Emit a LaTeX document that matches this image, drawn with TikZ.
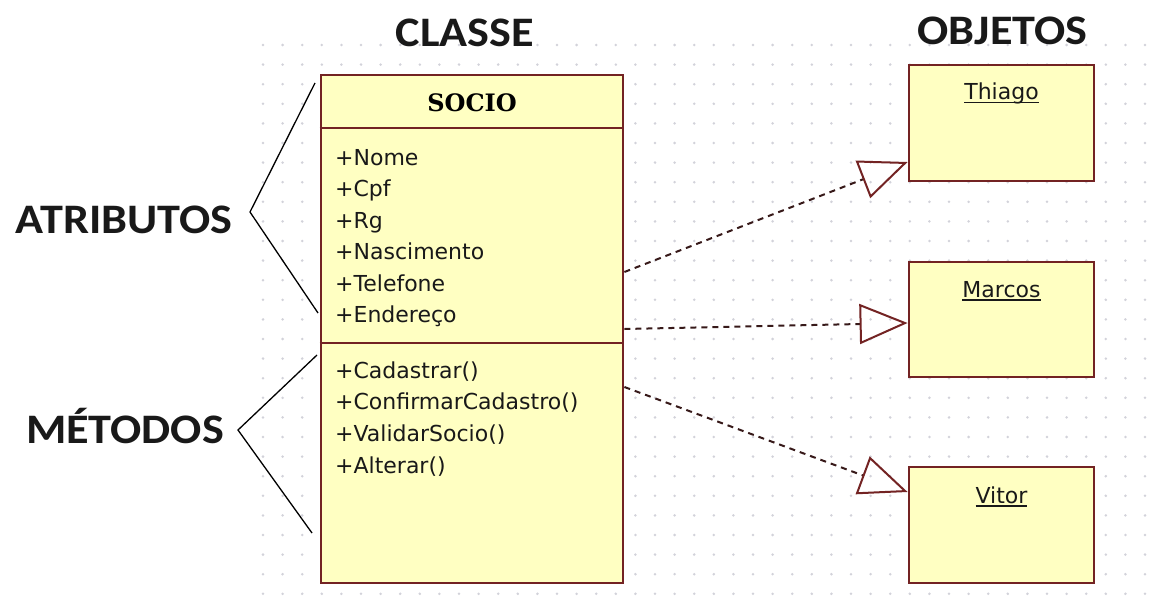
\documentclass[tikz,border=0pt]{standalone}
\usepackage{fontspec}
\usepackage{graphicx}
\usetikzlibrary{arrows.meta}

\newfontfamily\titlefont{Carlito}
\newfontfamily\umlfont{DejaVu Sans}
\newfontfamily\umlheadfont{DejaVu Serif}

\definecolor{umlfill}{RGB}{255,255,194}
\definecolor{umlline}{RGB}{115,35,35}
\definecolor{dashink}{RGB}{55,25,25}
\definecolor{griddot}{RGB}{210,210,218}

% object name with a flat underline close to the baseline
\newcommand\objname[1]{\setbox0\hbox{#1}\rlap{\rule[-3.5pt]{\wd0}{1.6pt}}\box0}

\begin{document}
\begin{tikzpicture}[x=1pt,y=-1pt,
  umlbox/.style={draw=umlline, fill=umlfill, line width=2.8pt, rectangle, inner sep=0pt},
  divider/.style={umlline, line width=2.6pt},
  member/.style={anchor=base west, inner sep=0pt, font=\umlfont\fontsize{22}{26}\selectfont, text=black!90},
  objlabel/.style={anchor=base, inner sep=0pt, font=\umlfont\fontsize{22}{26}\selectfont, text=black!90},
  bigtitle/.style={anchor=base, inner sep=0pt, font=\titlefont\bfseries\fontsize{42}{48}\selectfont, text=black!90},
  realizes/.style={dashink, line width=2pt, dash pattern=on 6pt off 5pt,
    -{Triangle[open, length=48pt, width=40pt, line width=2pt, color=umlline]}},
  bracket/.style={black, line width=1.3pt},
]

% canvas
\fill[white] (0,0) rectangle (1150,615);

% dotted drawing grid
\foreach \i in {0,...,45}
  \foreach \j in {0,...,28}
    \fill[griddot] ({263+19.6*\i},{45+19.6*\j}) circle (1.4pt);

% class SOCIO
\node[umlbox, minimum width=302pt, minimum height=508pt] (socio) at (472,329) {};
\draw[divider] (socio.west |- 0,128) -- (socio.east |- 0,128);
\draw[divider] (socio.west |- 0,343) -- (socio.east |- 0,343);
\node[anchor=base, inner sep=0pt, font=\umlheadfont\bfseries\fontsize{24}{28}\selectfont] (socioname) at (472,112) {SOCIO};

\foreach \t [count=\k] in {{+Nome},{+Cpf},{+Rg},{+Nascimento},{+Telefone},{+Endereço}}
  \node[member] (attr\k) at (335,{165+31.5*(\k-1)}) {\t};

\foreach \t [count=\k] in {{+Cadastrar()},{+ConfirmarCadastro()},{+ValidarSocio()},{+Alterar()}}
  \node[member] (meth\k) at (335,{378+31.7*(\k-1)}) {\t};

% objects
\node[umlbox, minimum width=185pt, minimum height=116pt] (thiago) at (1001.5,123) {};
\node[umlbox, minimum width=185pt, minimum height=115pt] (marcos) at (1001.5,319.5) {};
\node[umlbox, minimum width=185pt, minimum height=116pt] (vitor) at (1001.5,525) {};
\node[objlabel] (thiagoname) at (1001.5,100) {\objname{Thiago}};
\node[objlabel] (marcosname) at (1001.5,297) {\objname{Marcos}};
\node[objlabel] (vitorname) at (1001.5,503) {\objname{Vitor}};

% instantiation links
\draw[realizes] (socio.east |- 0,272) -- (thiago.west |- 0,162);
\draw[realizes] (socio.east |- 0,329) -- (marcos.west |- 0,323);
\draw[realizes] (socio.east |- 0,387) -- (vitor.west |- 0,492);

% titles
\node[bigtitle] (classe) at (465,47) {\scalebox{1.1}[1]{CLASSE}};
\node[bigtitle] (objetos) at (1002.5,45) {\scalebox{1.1}[1]{OBJETOS}};
\node[bigtitle] (atributos) at (124,233) {\scalebox{1.1}[1]{ATRIBUTOS}};
\node[bigtitle] (metodos) at (125,443) {\scalebox{1.1}[1]{MÉTODOS}};

% brackets
\coordinate (atop) at (315,83);
\coordinate (atip) at (250,212);
\coordinate (abot) at (318,313);
\draw[bracket] (atop) -- (atip) -- (abot);
\coordinate (mtop) at (317,355);
\coordinate (mtip) at (238,430);
\coordinate (mbot) at (312,533);
\draw[bracket] (mtop) -- (mtip) -- (mbot);
\end{tikzpicture}
\end{document}
